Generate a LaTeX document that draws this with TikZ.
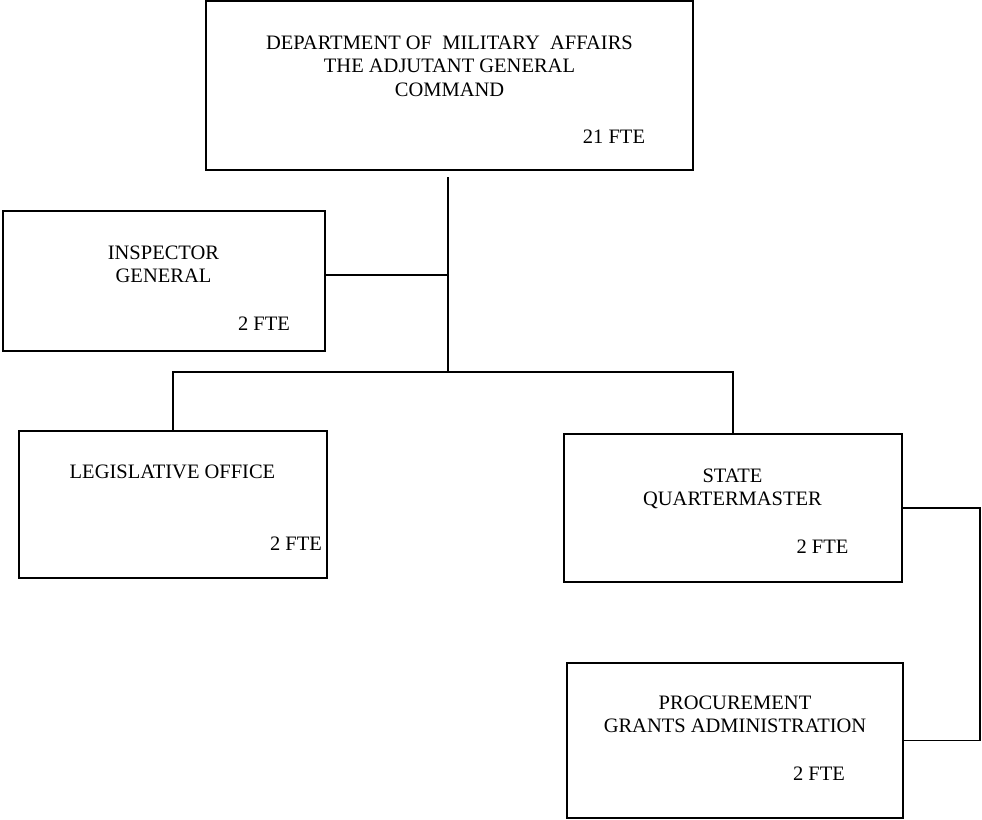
\documentclass[tikz,border=0pt]{standalone}
\usepackage{fontspec}
\setmainfont{Liberation Serif}
\usepackage{tikz}

\begin{document}
\begin{tikzpicture}[x=1pt, y=-1pt,
  unit/.style={draw, line width=1.1pt, inner sep=0pt},
  label/.style={inner sep=0pt, anchor=base, align=center, font=\fontsize{20.5}{23.5}\selectfont},
  link/.style={line width=1.4pt},
  trunk/.style={line width=1.9pt}]
\useasboundingbox (0,0) rectangle (982,819);
%
\node [unit, minimum width=487pt, minimum height=169pt] (dma)  at (449.5, 85.5) {};
\node [unit, minimum width=322pt, minimum height=140pt] (ig)   at (164, 281) {};
\node [unit, minimum width=308pt, minimum height=147pt] (leg)  at (173, 504.5) {};
\node [unit, minimum width=338pt, minimum height=148pt] (sqm)  at (733, 508) {};
\node [unit, minimum width=336pt, minimum height=155pt] (proc) at (735, 740.5) {};
% base = last line of each label
\node [label] (dmaname) at (449.5, 96) {DEPARTMENT OF~~MILITARY~~AFFAIRS\\THE ADJUTANT GENERAL\\COMMAND};
\node [label] (dmafte)  at (614, 143) {21 FTE};
\node [label] (igname)  at (163.5, 282.5) {INSPECTOR\\GENERAL};
\node [label] (igfte)   at (264, 330) {2 FTE};
\node [label] (legname) at (172.5, 478) {LEGISLATIVE OFFICE};
\node [label] (legfte)  at (296, 550) {2 FTE};
\node [label] (sqmname) at (732.5, 505.5) {STATE\\QUARTERMASTER};
\node [label] (sqmfte)  at (822.5, 553.5) {2 FTE};
\node [label] (procname) at (735, 732.5) {PROCUREMENT\\GRANTS ADMINISTRATION};
\node [label] (procfte)  at (819, 780) {2 FTE};
%
\coordinate (top)  at (448, 177);
\coordinate (tee)  at (448, 275);
\coordinate (hub)  at (448, 372);
\coordinate (rail) at (980, 0);
%
\draw [trunk] (top) -- (hub);
\draw [trunk] (ig.east |- tee) -- (tee);
\draw [trunk] (hub) -- (leg.north |- hub) -- (leg.north);
\draw [link] (hub) -- (sqm.north |- hub) -- (sqm.north);
\draw [link] (sqm.east) -- (sqm.east -| rail) -- (proc.east -| rail) -- (proc.east);
%%%%%%%%%%%%%%%%%%%%%%%%%%%%%%%
\end{tikzpicture}
\end{document}
